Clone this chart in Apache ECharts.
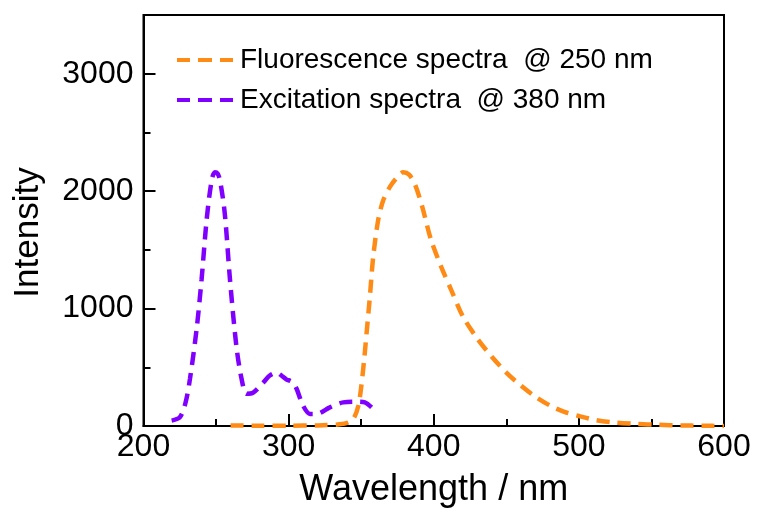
<!DOCTYPE html>
<html>
<head>
<meta charset="utf-8">
<script src="https://cdn.jsdelivr.net/npm/echarts@6/dist/echarts.min.js"></script>
<style>html,body{margin:0;padding:0;background:#fff;}#c{width:758px;height:513px;}</style>
</head>
<body>
<div id="c"></div>
<script>
// Fluorescence spectra @ 250 nm (wavelength, intensity)
const fluorWl = [260, 280, 300, 320, 335, 341, 345, 348, 350, 352, 354, 356, 358.3, 361.7, 365.2, 370, 375, 379, 383, 387, 392, 398, 405, 412, 420, 430, 440, 450, 460, 470, 480, 490, 500, 512, 525, 540, 555, 570, 585, 600];
const fluorI  = [4, 3, 3, 5, 14, 30, 70, 170, 330, 560, 830, 1104, 1442, 1753, 1922, 2040, 2120, 2160, 2140, 2060, 1870, 1590, 1360, 1160, 935, 745, 590, 455, 345, 250, 175, 120, 85, 50, 30, 18, 10, 5, 2, 0];
// Excitation spectra @ 380 nm
const excWl = [219.4, 225.1, 229, 232, 236.6, 240, 243.5, 247, 249.2, 251, 252.7, 256, 259.6, 264, 267.6, 271, 275.6, 282.5, 287, 291.7, 295, 298.6, 301, 303, 305.5, 310, 314.7, 319.3, 328.4, 337.6, 346.8, 352.5, 358.3];
const excI  = [46, 75, 200, 400, 825, 1245, 1755, 2094, 2160, 2150, 2094, 1810, 1245, 680, 400, 275, 285, 370, 430, 455, 430, 395, 385, 370, 317, 173, 103, 103, 159, 201, 207, 201, 145];
const seriesNames = ['Fluorescence spectra  @ 250 nm', 'Excitation spectra  @ 380 nm'];
const xTicks = [200, 300, 400, 500, 600];
const yTicks = [0, 1000, 2000, 3000];

const pair = (a, b) => a.map((v, i) => [v, b[i]]);
const FONT = '"Liberation Sans", Arial, sans-serif';
const DASH_ICON = 'path://M0,0h13v4h-13z M21,0h14v4h-14z M43,0h13v4h-13z';

const chart = echarts.init(document.getElementById('c'), null, {renderer: 'canvas'});
chart.setOption({
  animation: false,
  backgroundColor: '#fff',
  grid: {left: 143.5, right: 34, top: 15, bottom: 82.5, show: true, borderColor: '#000', borderWidth: 2, backgroundColor: 'transparent'},
  legend: {
    orient: 'vertical', left: 172, top: 40,
    itemWidth: 56, itemHeight: 4, itemGap: 10,
    icon: DASH_ICON,
    textStyle: {fontFamily: FONT, fontSize: 28, color: '#000', lineHeight: 30, padding: [0, 0, 0, 2]},
    data: seriesNames
  },
  xAxis: [{
    type: 'value', min: xTicks[0], max: xTicks[xTicks.length - 1], interval: 100,
    name: 'Wavelength / nm', nameLocation: 'middle', nameGap: 46,
    nameTextStyle: {fontFamily: FONT, fontSize: 36, color: '#000'},
    axisLine: {show: true, onZero: false, lineStyle: {color: '#000', width: 2}},
    axisTick: {show: true, inside: true, length: 12, lineStyle: {color: '#000', width: 2}},
    minorTick: {show: true, splitNumber: 2, length: 7, lineStyle: {color: '#000', width: 2}},
    axisLabel: {fontFamily: FONT, fontSize: 32, color: '#000', margin: 5},
    splitLine: {show: false}
  }],
  yAxis: [{
    type: 'value', min: 0, max: 3500, interval: 1000,
    name: 'Intensity', nameLocation: 'middle', nameGap: 98, nameRotate: 90,
    nameTextStyle: {fontFamily: FONT, fontSize: 35, color: '#000', padding: [0, 24, 0, 0]},
    axisLine: {show: true, onZero: false, lineStyle: {color: '#000', width: 2}},
    axisTick: {show: true, inside: true, length: 12, lineStyle: {color: '#000', width: 2}},
    axisLabel: {fontFamily: FONT, fontSize: 32, color: '#000', margin: 10, showMaxLabel: false,
      formatter: v => (yTicks.indexOf(v) >= 0 ? String(v) : '')},
    splitLine: {show: false}
  }, {
    type: 'value', min: 0, max: 3500, interval: 500, position: 'left',
    axisLine: {show: false},
    axisTick: {show: true, inside: true, length: 7, lineStyle: {color: '#000', width: 2}},
    axisLabel: {show: false},
    splitLine: {show: false}
  }],
  series: [{
    name: seriesNames[0], type: 'line', yAxisIndex: 0,
    data: pair(fluorWl, fluorI), symbol: 'none', smooth: 0.3,
    itemStyle: {color: '#FF8B17'},
    lineStyle: {color: '#FF8B17', width: 4.5, type: [13, 8], cap: 'butt'}
  }, {
    name: seriesNames[1], type: 'line', yAxisIndex: 0,
    data: pair(excWl, excI), symbol: 'none', smooth: 0.3,
    itemStyle: {color: '#8000FF'},
    lineStyle: {color: '#8000FF', width: 4.5, type: [13, 8], cap: 'butt'}
  }]
});
</script>
</body>
</html>
